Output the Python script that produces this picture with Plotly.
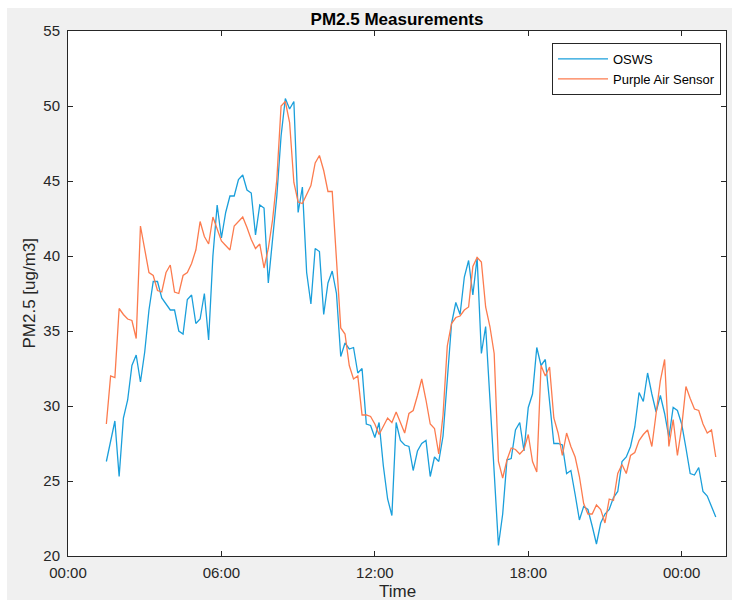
import pandas as pd
import plotly.graph_objects as go

# 10-minute PM2.5 readings from the two instruments
START = "2021-09-14 01:30"
STEP = "10min"

osws = [
    26.3, 27.6, 29.0, 25.3, 29.2, 30.4, 32.7, 33.4, 31.6, 33.6,
    36.4, 38.3, 38.3, 37.2, 36.8, 36.4, 36.4, 35.0, 34.8, 37.1,
    37.4, 35.5, 35.8, 37.5, 34.4, 40.0, 43.4, 41.2, 42.9, 44.0,
    44.0, 45.1, 45.4, 44.4, 44.2, 41.4, 43.4, 43.2, 38.2, 41.1,
    44.0, 48.0, 50.5, 49.8, 50.3, 42.9, 44.6, 38.9, 36.8, 40.5,
    40.3, 36.1, 38.2, 39.0, 37.5, 33.3, 34.2, 33.8, 33.9, 32.2,
    32.5, 28.8, 28.7, 27.9, 28.9, 26.0, 23.8, 22.7, 28.9, 27.7,
    27.4, 27.3, 25.7, 27.0, 27.5, 27.7, 25.3, 26.6, 26.3, 28.0,
    31.5, 35.5, 36.9, 36.1, 38.6, 39.7, 37.4, 39.9, 33.5, 35.3,
    30.5, 25.5, 20.7, 22.8, 26.4, 26.5, 28.4, 28.9, 27.0, 29.9,
    30.8, 33.9, 32.7, 33.1, 30.4, 27.5, 27.5, 27.4, 25.5, 25.7,
    24.1, 22.4, 23.3, 23.1, 22.0, 20.8, 22.2, 22.8, 23.1, 23.9,
    24.3, 26.3, 26.6, 27.3, 28.6, 30.9, 30.3, 32.2, 30.8, 29.6,
    30.7, 29.5, 27.9, 29.9, 29.7, 28.8, 27.2, 25.5, 25.4, 25.9,
    24.3, 24.0, 23.3, 22.6,
]

purple_air = [
    28.8, 32.0, 31.9, 36.5, 36.1, 35.8, 35.7, 34.5, 42.0, 40.5,
    38.9, 38.7, 37.7, 37.6, 38.9, 39.4, 37.6, 37.5, 38.7, 38.9,
    39.5, 40.4, 42.3, 41.3, 40.8, 42.6, 41.8, 41.0, 40.7, 40.4,
    42.0, 42.3, 42.6, 41.9, 41.1, 40.5, 40.8, 39.2, 40.5, 42.4,
    45.1, 50.0, 50.3, 48.9, 44.9, 43.6, 43.5, 44.1, 44.7, 46.2,
    46.7, 45.7, 44.3, 44.3, 39.5, 35.2, 34.8, 32.7, 31.8, 32.0,
    29.4, 29.4, 29.3, 28.8, 28.1, 28.6, 29.2, 28.9, 29.6, 28.9,
    28.2, 29.5, 29.7, 30.7, 31.8, 30.4, 28.8, 28.5, 26.8, 29.4,
    34.0, 35.5, 35.9, 36.0, 36.4, 36.6, 39.3, 39.9, 39.6, 36.6,
    35.3, 33.5, 26.3, 25.2, 26.4, 27.2, 27.1, 26.8, 27.1, 28.1,
    26.3, 25.6, 32.7, 32.0, 32.6, 29.2, 28.2, 26.7, 28.2, 27.3,
    26.6, 25.3, 23.5, 22.8, 22.8, 23.4, 23.1, 22.2, 23.8, 23.7,
    25.5, 26.1, 25.5, 26.7, 26.9, 27.7, 28.1, 28.4, 27.3, 29.5,
    31.7, 33.1, 27.3, 29.1, 26.7, 28.6, 31.3, 30.5, 29.8, 29.7,
    28.8, 28.2, 28.4, 26.6,
]

series_names = ["OSWS", "Purple Air Sensor"]
tick_times = ["2021-09-14 00:00", "2021-09-14 06:00", "2021-09-14 12:00",
              "2021-09-14 18:00", "2021-09-15 00:00"]
x_limits = ["2021-09-14 00:00", "2021-09-15 01:44"]
y_limits = [20, 55]

times = pd.date_range(START, periods=len(osws), freq=STEP)

W, H = 732, 600
ML, MR, MT, MB = 68, 6, 31, 44
PW, PH = W - ML - MR, H - MT - MB


def px_to_paper(px, py):
    return (px - ML) / PW, (H - MB - py) / PH


FONT = "Liberation Sans, Arial, Helvetica, sans-serif"
INK = "#262626"

fig = go.Figure()
fig.add_trace(go.Scatter(x=times, y=osws, mode="lines", name=series_names[0],
                         line=dict(color="#1A9FDB", width=1.3)))
fig.add_trace(go.Scatter(x=times, y=purple_air, mode="lines", name=series_names[1],
                         line=dict(color="#FC7B4E", width=1.3)))

axis_common = dict(
    showline=True, linecolor=INK, linewidth=1, mirror="ticks",
    ticks="inside", ticklen=5, tickwidth=1, tickcolor=INK,
    showgrid=False, zeroline=False,
    tickfont=dict(family=FONT, size=15, color=INK),
)

fig.update_xaxes(type="date", range=x_limits, tickvals=tick_times,
                 tickformat="%H:%M", ticklabelstandoff=3, **axis_common)
fig.update_yaxes(range=y_limits, tickvals=list(range(20, 56, 5)),
                 ticklabelstandoff=4, **axis_common)

# white page edge around the grey figure window
x0, _ = px_to_paper(0, 0)
x7, _ = px_to_paper(7, 0)
x_end, _ = px_to_paper(W, 0)
_, y_top = px_to_paper(0, 0)
_, y8 = px_to_paper(0, 8)
_, y_bot = px_to_paper(0, H)
fig.add_shape(type="rect", xref="paper", yref="paper", x0=x0, x1=x7,
              y0=y_bot, y1=y_top, fillcolor="white", line_width=0, layer="below")
fig.add_shape(type="rect", xref="paper", yref="paper", x0=x0, x1=x_end,
              y0=y8, y1=y_top, fillcolor="white", line_width=0, layer="below")

tx, ty = px_to_paper(0, 591)
fig.add_annotation(text="Time", xref="paper", yref="paper", x=0.5, y=ty,
                   xanchor="center", yanchor="middle", showarrow=False,
                   font=dict(family=FONT, size=17, color=INK))
lx, ly = px_to_paper(29, 0)
fig.add_annotation(text="PM2.5 [ug/m3]", xref="paper", yref="paper", x=lx, y=0.5,
                   xanchor="center", yanchor="middle", textangle=-90, showarrow=False,
                   font=dict(family=FONT, size=17, color=INK))

lgx, lgy = px_to_paper(721, 43)
fig.update_layout(
    width=W, height=H,
    margin=dict(l=ML, r=MR, t=MT, b=MB, pad=0),
    paper_bgcolor="#F0F0F0", plot_bgcolor="white",
    title=dict(text="<b>PM2.5 Measurements</b>", x=0.5, xref="paper",
               y=1 - 19 / H, yref="container", yanchor="middle", xanchor="center",
               font=dict(family=FONT, size=17, color="black")),
    showlegend=True,
    legend=dict(x=lgx, y=lgy, xanchor="right", yanchor="top",
                bgcolor="white", bordercolor=INK, borderwidth=1,
                font=dict(family=FONT, size=13, color="black"),
                itemwidth=50, tracegroupgap=0),
)

fig.write_html("out.html")
